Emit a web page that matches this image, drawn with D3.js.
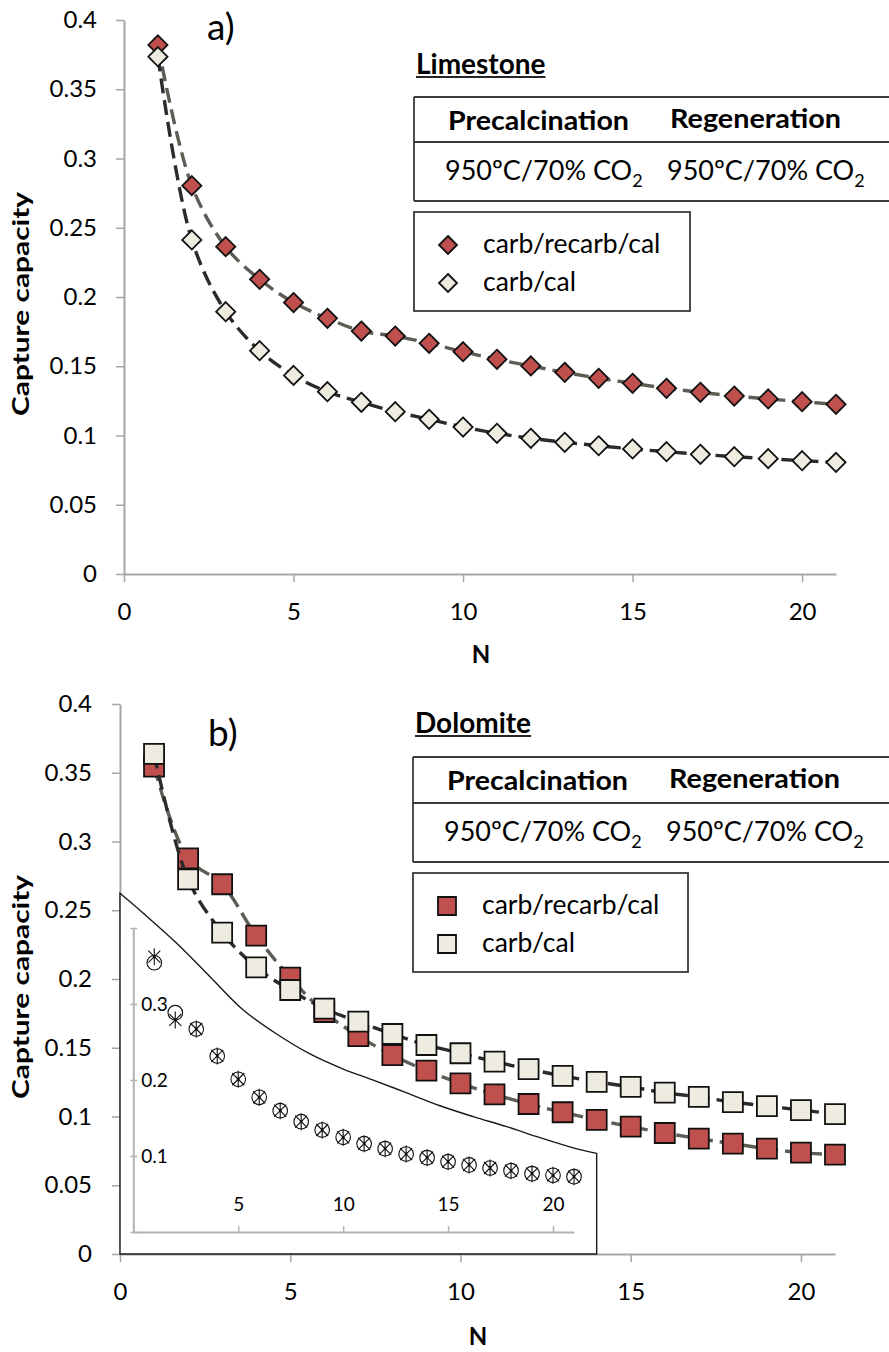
<!DOCTYPE html>
<html><head><meta charset="utf-8">
<script src="https://cdn.jsdelivr.net/npm/d3@7"></script>
<style>
body{margin:0;background:#fff}
svg{display:block}
text{font-family:Lato,"Open Sans",sans-serif;fill:#000}
</style>
</head><body>
<svg id="c" width="889" height="1352"></svg>
<script>
// ---------- data ----------
const cycles = d3.range(1, 22);
const limestoneRecarb = [0.382,0.2804,0.2363,0.2128,0.1960,0.1846,0.1754,0.1718,0.1666,0.1605,0.1550,0.1502,0.1456,0.1413,0.1377,0.1341,0.1312,0.1285,0.1264,0.1244,0.1225];
const limestoneCarbCal = [0.3735,0.2412,0.1894,0.1612,0.1434,0.1316,0.1240,0.1172,0.1117,0.1061,0.1016,0.0980,0.0951,0.0926,0.0903,0.0883,0.0864,0.0847,0.0833,0.0818,0.0806];
const dolomiteRecarb = [0.3545,0.2878,0.2689,0.2315,0.2010,0.1760,0.1585,0.1447,0.1333,0.1241,0.1161,0.1091,0.1031,0.0975,0.0926,0.0880,0.0839,0.0802,0.0766,0.0737,0.0722];
const dolomiteCarbCal = [0.3638,0.2725,0.2338,0.2085,0.1920,0.1785,0.1690,0.1600,0.1520,0.1460,0.1399,0.1345,0.1295,0.1252,0.1215,0.1173,0.1142,0.1105,0.1076,0.1047,0.1018];
const insetCircles = [0.3543,0.2886,0.2671,0.2316,0.2010,0.1772,0.1596,0.1451,0.1342,0.1246,0.1162,0.1096,0.1026,0.0978,0.0925,0.0882,0.0842,0.0807,0.0768,0.0746,0.0728];
const insetStars   = [0.3622,0.2790,0.2671,0.2316,0.2010,0.1772,0.1596,0.1451,0.1342,0.1246,0.1162,0.1096,0.1026,0.0978,0.0925,0.0882,0.0842,0.0807,0.0768,0.0746,0.0728];
// top edge of the inset frame, in panel-b data units [N, capacity]
const insetOutlineTop = [[0,0.2623],[0.684,0.2478],[1.665,0.2260],[2.643,0.2017],[3.621,0.1775],[4.602,0.1600],[5.580,0.1455],[6.558,0.1345],[7.439,0.1265],[8.420,0.1172],[9.398,0.1078],[10.376,0.0999],[11.357,0.0926],[12.335,0.0846],[13.313,0.0772],[14.0,0.0732]];
const yTicks = [0,0.05,0.1,0.15,0.2,0.25,0.3,0.35,0.4];
const xTicks = [0,5,10,15,20];
const insetYTicks = [0,0.1,0.2,0.3,0.4];
const insetYLabels = [0.1,0.2,0.3];
const insetXTicks = [0,5,10,15,20];
const insetXLabels = [5,10,15,20];
const seriesNames = ["carb/recarb/cal","carb/cal"];
const conditionHeaders = ["Precalcination","Regeneration"];
const conditionValues = ["950ºC/70% CO","950ºC/70% CO"];
const materials = ["Limestone","Dolomite"];
const panelLabels = ["a)","b)"];
const yTitle = "Capture capacity";
const xTitle = "N";

// ---------- style ----------
const RED = "#c0504d", LIGHT = "#eeece1";
const LINE_RED = "#5e5d55", LINE_LIGHT = "#2b2b2b";
const AXIS = "#a6a6a6";
const TXT = "#262626";
const fmt = v => v === 0 ? "0" : String(+v.toFixed(2));

const svg = d3.select("#c");

function panel(cfg) {
  const g = svg.append("g");
  const x = d3.scaleLinear().domain([0,21]).range(cfg.xr);
  const y = d3.scaleLinear().domain([0,0.4]).range(cfg.yr);

  const ya = g.append("g").attr("transform", `translate(${cfg.xr[0]},0)`)
    .call(d3.axisLeft(y).tickValues(yTicks).tickFormat(fmt).tickSizeInner(8).tickSizeOuter(0).tickPadding(cfg.yPad));
  const xa = g.append("g").attr("transform", `translate(0,${cfg.yr[0]})`)
    .call(d3.axisBottom(x).tickValues(xTicks).tickFormat(fmt).tickSizeInner(8).tickSizeOuter(0).tickPadding(21));
  [ya, xa].forEach(a => {
    a.select(".domain").attr("stroke", AXIS).attr("stroke-width", 2);
    a.selectAll(".tick line").attr("stroke", AXIS).attr("stroke-width", 1.5);
    a.selectAll("text").attr("fill", "#000").style("font-size", "24px").style("font-family", "Lato");
  });

  g.append("text").attr("transform", `translate(29,${cfg.yTitleC}) rotate(-90)`)
    .attr("text-anchor", "middle").attr("font-size", 23).attr("font-weight", "bold")
    .attr("textLength", 224).attr("lengthAdjust", "spacingAndGlyphs").text(yTitle);
  g.append("text").attr("x", cfg.nX).attr("y", cfg.nY).attr("text-anchor", "middle")
    .attr("font-size", 24).attr("font-weight", "bold").text(xTitle);
  g.append("text").attr("x", cfg.lblX).attr("y", cfg.lblY).attr("font-size", 37)
    .attr("fill", "#1a1a1a").text(cfg.label);

  if (cfg.inset) drawInset(g, x, y);

  const line = d3.line().x((d,i) => x(cycles[i])).y(d => y(d)).curve(d3.curveCatmullRom.alpha(0.5));
  const series = [
    {vals: cfg.s1, fill: RED, stroke: LINE_RED},
    {vals: cfg.s2, fill: LIGHT, stroke: LINE_LIGHT}
  ];
  series.forEach(s => {
    g.append("path").attr("d", line(s.vals)).attr("fill", "none").attr("stroke", s.stroke)
      .attr("stroke-width", 3.4).attr("stroke-dasharray", "15,7");
    g.append("g").selectAll("path").data(s.vals).join("path")
      .attr("transform", (d,i) => `translate(${x(cycles[i])},${y(d)})`)
      .attr("d", cfg.marker).attr("fill", s.fill).attr("stroke", "#111").attr("stroke-width", 1.8);
  });

  // material label (underlined)
  const mt = g.append("text").attr("x", cfg.legX + 1).attr("y", cfg.matY).attr("font-size", 28)
    .attr("font-weight", "bold").attr("fill", TXT).text(cfg.material);
  const mw = mt.node().getComputedTextLength();
  g.append("line").attr("x1", cfg.legX + 1).attr("x2", cfg.legX + 1 + mw)
    .attr("y1", cfg.matY + 3).attr("y2", cfg.matY + 3)
    .attr("stroke", TXT).attr("stroke-width", 1.8);

  // condition table
  const t0 = cfg.tabTop, t1 = cfg.tabMid, t2 = cfg.tabBot, tl = cfg.legX - 1;
  const tb = g.append("g").attr("stroke", "#3a3a3a").attr("stroke-width", 1.8);
  [t0, t1, t2].forEach(yy => tb.append("line").attr("x1", tl).attr("x2", 889).attr("y1", yy).attr("y2", yy));
  tb.append("line").attr("x1", tl).attr("x2", tl).attr("y1", t0).attr("y2", t2);
  const colX = [cfg.legX + 33, cfg.legX + 255];
  const hw = [181, 171];
  conditionHeaders.forEach((h,i) => {
    g.append("text").attr("x", colX[i]).attr("y", t0 + 33 - i*2).attr("font-size", 27)
      .attr("font-weight", "bold").attr("fill", TXT)
      .attr("textLength", hw[i]).attr("lengthAdjust", "spacingAndGlyphs").text(h);
  });
  conditionValues.forEach((v,i) => {
    const t = g.append("text").attr("x", colX[i] - 3).attr("y", t1 + 38).attr("font-size", 27).attr("fill", TXT);
    t.append("tspan").text(v);
    t.append("tspan").attr("dy", 7).attr("font-size", 18).text("2");
  });

  // legend
  const lt = cfg.legTop, lb = cfg.legBot;
  g.append("rect").attr("x", tl).attr("y", lt).attr("width", cfg.legW).attr("height", lb - lt)
    .attr("fill", "#fff").attr("stroke", "#3a3a3a").attr("stroke-width", 1.8);
  seriesNames.forEach((n,i) => {
    const yy = lt + 33 + i*38;
    g.append("path").attr("transform", `translate(${cfg.legX + 33},${yy})`).attr("d", cfg.legMarker)
      .attr("fill", i === 0 ? RED : LIGHT).attr("stroke", "#111").attr("stroke-width", 1.8);
    g.append("text").attr("x", cfg.legX + 68).attr("y", yy + 8).attr("font-size", 26.5).attr("fill", "#1a1a1a").text(n);
  });
}

function drawInset(g, x, y) {
  const ig = g.append("g");
  const top = d3.line().x(d => x(d[0])).y(d => y(d[1])).curve(d3.curveCatmullRom.alpha(0.5))(insetOutlineTop);
  const last = insetOutlineTop[insetOutlineTop.length - 1];
  const d = top + `L${x(last[0])},${y(0)}L${x(0)},${y(0)}Z`;
  ig.append("path").attr("d", d).attr("fill", "#fff")
    .attr("stroke", "#1a1a1a").attr("stroke-width", 1.4);
  const ix = d3.scaleLinear().domain([0,21]).range([133.3, 574]);
  const iy = d3.scaleLinear().domain([0,0.4]).range([1232, 928]);
  const iya = ig.append("g").attr("transform", `translate(${ix(0)},0)`)
    .call(d3.axisRight(iy).tickValues(insetYTicks).tickSizeInner(4).tickSizeOuter(0).tickPadding(4)
      .tickFormat(d => insetYLabels.includes(d) ? fmt(d) : ""));
  iya.selectAll(".tick line").attr("x1", -3);
  const ixa = ig.append("g").attr("transform", `translate(0,${iy(0)})`)
    .call(d3.axisTop(ix).tickValues(insetXTicks).tickSizeInner(6).tickSizeOuter(0).tickPadding(15)
      .tickFormat(d => insetXLabels.includes(d) ? fmt(d) : ""));
  [iya, ixa].forEach(a => {
    a.select(".domain").attr("stroke", "#b3b3b3").attr("stroke-width", 2);
    a.selectAll(".tick line").attr("stroke", "#b3b3b3").attr("stroke-width", 1.5);
    a.selectAll("text").attr("fill", "#000").style("font-size", "19px").style("font-family", "Lato");
  });
  ig.append("g").selectAll("circle").data(insetCircles).join("circle")
    .attr("cx", (d,i) => ix(cycles[i])).attr("cy", d => iy(d)).attr("r", 7.3)
    .attr("fill", "none").attr("stroke", "#111").attr("stroke-width", 1.1);
  const star = "M0,-8.5L0,8.5M-6,-6L6,6M-6,6L6,-6";
  ig.append("g").selectAll("path").data(insetStars).join("path")
    .attr("transform", (d,i) => `translate(${ix(cycles[i])},${iy(d)})`).attr("d", star)
    .attr("fill", "none").attr("stroke", "#111").attr("stroke-width", 1.1);
  ig.append("g").selectAll("circle").data(insetStars).join("circle")
    .attr("cx", (d,i) => ix(cycles[i])).attr("cy", d => iy(d)).attr("r", 1.4).attr("fill", "#111");
}

const diamond = r => `M0,${-r}L${r},0L0,${r}L${-r},0Z`;
const square = s => `M${-s/2},${-s/2}h${s}v${s}h${-s}Z`;

panel({
  xr: [124, 836], yr: [574, 20], yPad: 19, yTitleC: 304, nX: 481, nY: 663,
  lblX: 207, lblY: 40, label: panelLabels[0],
  s1: limestoneRecarb, s2: limestoneCarbCal, marker: diamond(9.6), legMarker: diamond(9),
  material: materials[0], legX: 415, matY: 74, tabTop: 97, tabMid: 142, tabBot: 201,
  legTop: 212, legBot: 311, legW: 276
});
panel({
  xr: [120, 835], yr: [1254, 704], yPad: 20, yTitleC: 987, nX: 478, nY: 1345,
  lblX: 208, lblY: 746, label: panelLabels[1], inset: true,
  s1: dolomiteRecarb, s2: dolomiteCarbCal, marker: square(20), legMarker: square(18),
  material: materials[1], legX: 414, matY: 733, tabTop: 757, tabMid: 803, tabBot: 862,
  legTop: 873, legBot: 972, legW: 275
});
</script>
</body></html>
